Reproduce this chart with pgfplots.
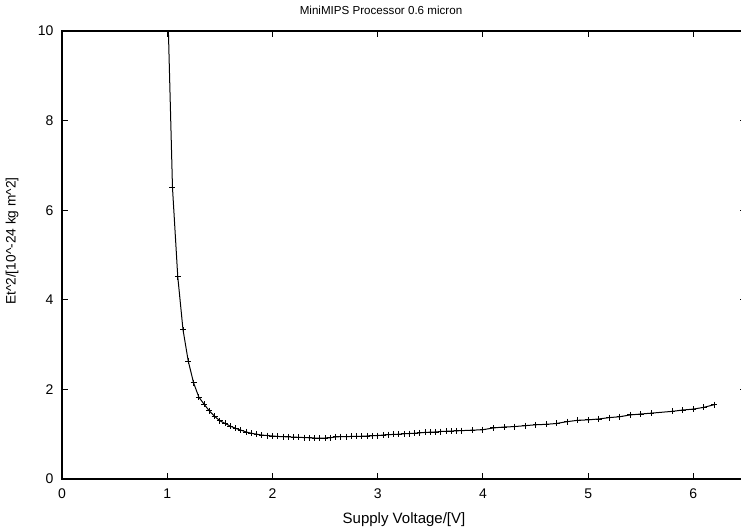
\documentclass[border=0pt]{standalone}
\usepackage{pgfplots}
\pgfplotsset{compat=1.18}
\usepackage{fontspec}
\setmainfont{Liberation Sans}
\usetikzlibrary{calc}

\begin{document}
\begin{tikzpicture}
\begin{axis}[
    scale only axis,
    width=684bp, height=448bp,
    xmin=0, xmax=6.5,
    ymin=0, ymax=10,
    xtick={0,1,2,3,4,5,6},
    ytick={0,2,4,6,8,10},
    tick align=inside,
    major tick length=6bp,
    axis line style={line width=1.1bp},
    every tick/.style={black, line width=0.9bp},
    tick label style={font=\fontsize{14bp}{15bp}\selectfont},
    /pgf/number format/assume math mode=true,
    xticklabel style={yshift=-6bp},
    yticklabel style={xshift=-5bp},
    xlabel={Supply Voltage/[V]},
    xlabel style={at={(axis description cs:0.5,-0.0915)}, anchor=center,
        font=\fontsize{15bp}{17bp}\selectfont},
    ylabel={Et\^{}2/[10\^{}-24 kg m\^{}2]},
    ylabel style={at={(axis description cs:-0.073,0.531)}, anchor=center,
        rotate=0, font=\fontsize{13.7bp}{15bp}\selectfont},
]
\addplot[black, line width=1bp, mark=+, mark size=3bp,
         mark options={line width=0.9bp}] coordinates {
(1.00,11.0) (1.05,6.50) (1.10,4.52) (1.15,3.33) (1.20,2.63) (1.25,2.15)
(1.30,1.83) (1.35,1.67) (1.40,1.52) (1.45,1.40) (1.50,1.30) (1.55,1.24)
(1.60,1.18) (1.65,1.13) (1.70,1.09) (1.75,1.05) (1.80,1.02) (1.85,1.00)
(1.90,0.98) (1.95,0.97) (2.00,0.96) (2.05,0.95) (2.10,0.945) (2.15,0.94)
(2.20,0.935) (2.25,0.93) (2.30,0.925) (2.35,0.92) (2.40,0.915) (2.45,0.91)
(2.50,0.915) (2.55,0.92) (2.60,0.94) (2.65,0.945) (2.70,0.945) (2.75,0.95)
(2.80,0.95) (2.85,0.955) (2.90,0.96) (2.95,0.965) (3.00,0.97) (3.05,0.98)
(3.10,0.99) (3.15,0.995) (3.20,1.00) (3.25,1.01) (3.30,1.015) (3.35,1.02)
(3.40,1.03) (3.45,1.04) (3.50,1.045) (3.55,1.05) (3.60,1.06) (3.65,1.065)
(3.70,1.07) (3.75,1.075) (3.80,1.08) (3.90,1.09) (4.00,1.10) (4.10,1.14)
(4.20,1.16) (4.30,1.17) (4.40,1.19) (4.50,1.21) (4.60,1.22) (4.70,1.24)
(4.80,1.28) (4.90,1.31) (5.00,1.32) (5.10,1.34) (5.20,1.37) (5.30,1.39)
(5.40,1.43) (5.50,1.45) (5.60,1.47) (5.80,1.51) (5.90,1.54) (6.00,1.56)
(6.10,1.60) (6.20,1.66)
};
\end{axis}
% title, placed as in the reference
\node[font=\fontsize{11.6bp}{13bp}\selectfont, anchor=center]
    at ($(current axis.south west)+(319bp,469bp)$) {MiniMIPS Processor 0.6 micron};
% crop to the reference frame (right border lies just outside it)
\pgfresetboundingbox
\useasboundingbox ($(current axis.south west)+(-62bp,-52bp)$)
    rectangle ($(current axis.south west)+(679bp,479bp)$);
\end{tikzpicture}
\end{document}
